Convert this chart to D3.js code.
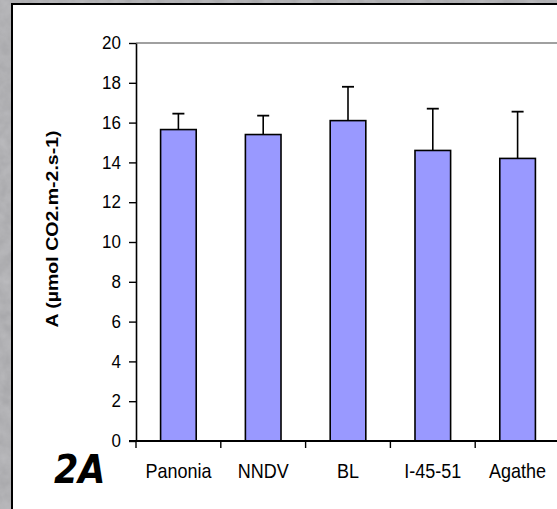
<!DOCTYPE html>
<html><head><meta charset="utf-8">
<script src="https://cdn.jsdelivr.net/npm/d3@7"></script>
<style>html,body{margin:0;padding:0;background:#a9a9ac;overflow:hidden}</style>
</head><body>
<script>
const categories = ["Panonia", "NNDV", "BL", "I-45-51", "Agathe"];
const means = [15.65, 15.4, 16.1, 14.6, 14.2];
const errors = [0.8, 0.95, 1.7, 2.1, 2.35];
const yTicks = [0, 2, 4, 6, 8, 10, 12, 14, 16, 18, 20];
const yTitle = "A (µmol CO2.m-2.s-1)";
const panelLabel = "2A";

const W = 557, H = 509;
const FONT = "Liberation Sans, Arial, sans-serif";
const svg = d3.select("body").append("svg").attr("width", W).attr("height", H);

// textured gray background
const defs = svg.append("defs");
const f = defs.append("filter").attr("id", "grain");
f.append("feTurbulence").attr("type", "fractalNoise").attr("baseFrequency", 0.08).attr("numOctaves", 3).attr("seed", 4);
f.append("feColorMatrix").attr("type", "matrix")
  .attr("values", "0 0 0 0 0.66  0 0 0 0 0.66  0 0 0 0 0.68  0 0 0 -0.9 0.75");
svg.append("rect").attr("width", W).attr("height", H).attr("fill", "#a9a9ac");
svg.append("rect").attr("width", W).attr("height", H).attr("filter", "url(#grain)").attr("opacity", 0.6);

// white panel
svg.append("rect").attr("x", 12).attr("y", 4).attr("width", W + 20).attr("height", H + 20)
  .attr("fill", "#fff").attr("stroke", "#000").attr("stroke-width", 2);

const x = d3.scaleBand().domain(categories).range([136, 560]).paddingInner(0.58).paddingOuter(0.29);
const y = d3.scaleLinear().domain([0, 20]).range([441, 43]);

// top plot border
svg.append("line").attr("x1", x.range()[0]).attr("x2", W + 5).attr("y1", y(20)).attr("y2", y(20))
  .attr("stroke", "#808080").attr("stroke-width", 1.5);

const data = categories.map((c, i) => ({c, m: means[i], e: errors[i]}));

// bars
svg.selectAll("rect.bar").data(data).join("rect").attr("class", "bar")
  .attr("x", d => x(d.c)).attr("width", x.bandwidth())
  .attr("y", d => y(d.m)).attr("height", d => y(0) - y(d.m))
  .attr("fill", "#9999ff").attr("stroke", "#000").attr("stroke-width", 1.6);

// error bars
const cx = d => x(d.c) + x.bandwidth() / 2;
const eg = svg.selectAll("g.err").data(data).join("g").attr("class", "err");
eg.append("line").attr("x1", cx).attr("x2", cx)
  .attr("y1", d => y(d.m)).attr("y2", d => y(d.m + d.e)).attr("stroke", "#000").attr("stroke-width", 1.6);
eg.append("line").attr("x1", d => cx(d) - 6).attr("x2", d => cx(d) + 6)
  .attr("y1", d => y(d.m + d.e)).attr("y2", d => y(d.m + d.e)).attr("stroke", "#000").attr("stroke-width", 1.8);

// y axis
const ya = svg.append("g").attr("transform", `translate(${x.range()[0]},0)`)
  .call(d3.axisLeft(y).tickValues(yTicks).tickSize(7).tickPadding(8).tickSizeOuter(0));
ya.select(".domain").attr("stroke", "#000").attr("stroke-width", 1.6);
ya.selectAll(".tick line").attr("stroke", "#000").attr("stroke-width", 1.4);
ya.selectAll(".tick text").attr("font-family", FONT).attr("font-size", 17).attr("fill", "#000")
  .attr("dy", "0.3em").attr("transform", "scale(1,1.12)");

// x axis: ticks at category boundaries
const step = x.step();
const boundaries = categories.map((c, i) => x.range()[0] + step * i);
const xa = svg.append("g").attr("transform", `translate(0,${y(0)})`);
xa.append("line").attr("x1", x.range()[0] - 7).attr("x2", W + 5).attr("stroke", "#000").attr("stroke-width", 1.8);
xa.selectAll("line.tk").data(boundaries).join("line").attr("class", "tk")
  .attr("x1", d => d).attr("x2", d => d).attr("y1", 0).attr("y2", 7).attr("stroke", "#000").attr("stroke-width", 1.4);
xa.selectAll("text").data(categories).join("text")
  .attr("transform", d => `translate(${x(d) + x.bandwidth() / 2},37) scale(1,1.15)`)
  .attr("text-anchor", "middle").attr("font-family", FONT)
  .attr("font-size", 18).attr("fill", "#000").text(d => d);

// y title
svg.append("text").attr("transform", "translate(58,229) rotate(-90) scale(1.15,1)")
  .attr("text-anchor", "middle").attr("font-family", FONT)
  .attr("font-weight", "bold").attr("font-size", 17).attr("fill", "#000").text(yTitle);

// panel label
svg.append("text").attr("transform", "translate(54,483) scale(1,1.1)")
  .attr("font-family", "DejaVu Sans, sans-serif").attr("font-weight", "bold").attr("font-style", "italic")
  .attr("font-size", 35).attr("fill", "#000").text(panelLabel);
</script>
</body></html>
